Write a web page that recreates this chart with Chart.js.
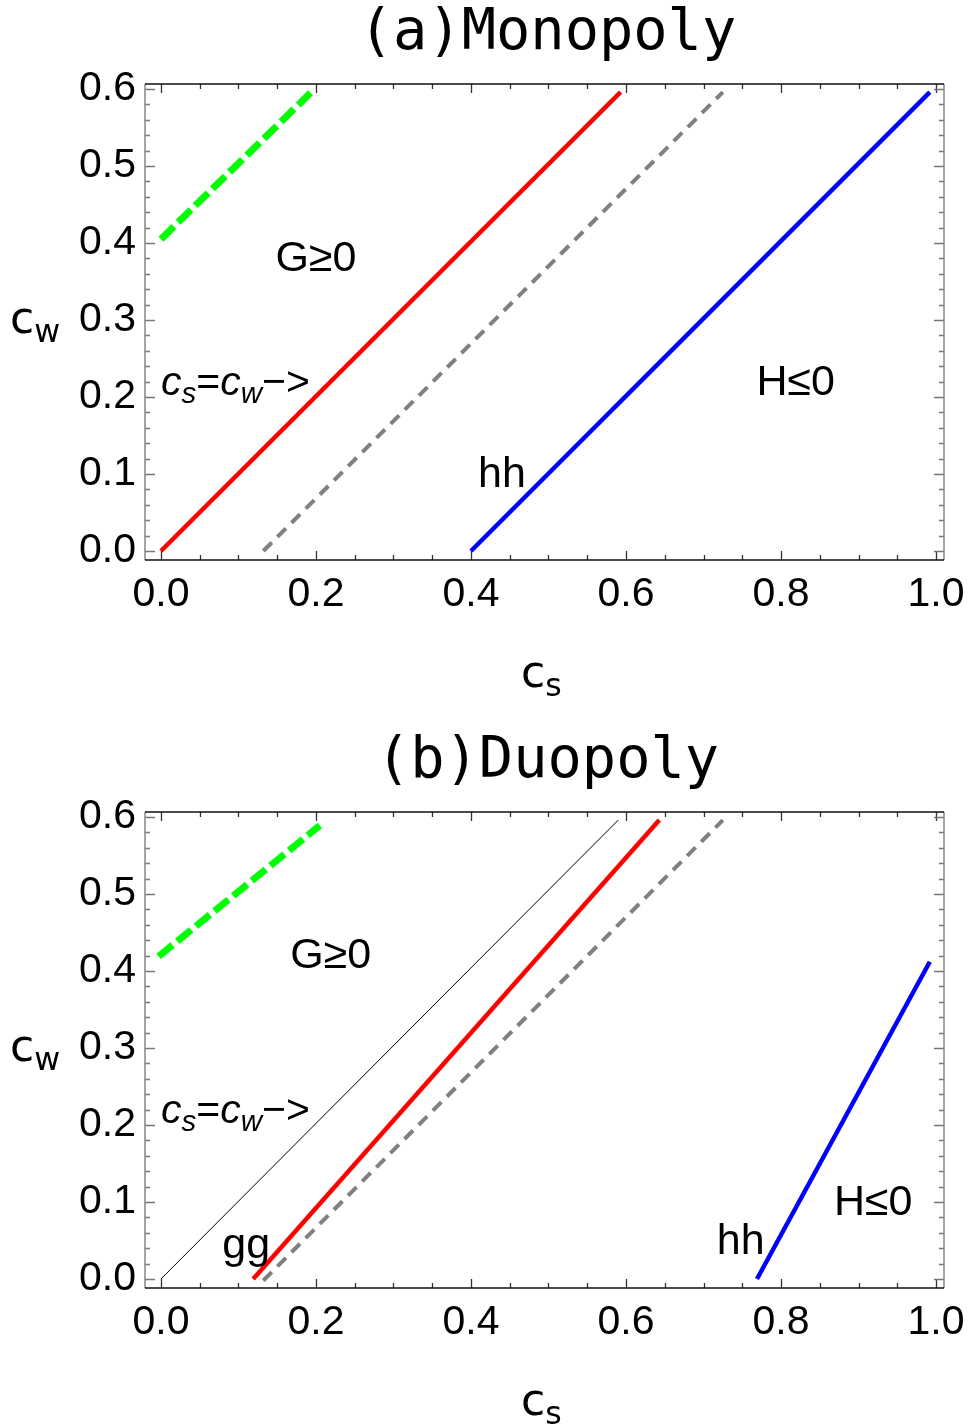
<!DOCTYPE html>
<html>
<head>
<meta charset="utf-8">
<script src="https://cdn.jsdelivr.net/npm/chart.js@4.4.0/dist/chart.umd.min.js"></script>
<style>
    body { margin: 0; background: #fff; }
    canvas { display: block; }
</style>
</head>
<body>
<canvas id="chartA" width="968" height="728"></canvas>
<canvas id="chartB" width="968" height="697"></canvas>
<script>
// Tick labels
const xTicks = [0.0, 0.2, 0.4, 0.6, 0.8, 1.0];
const yTicks = [0.0, 0.1, 0.2, 0.3, 0.4, 0.5, 0.6];

// (a) Monopoly curves
const greenAx = [0.0, 0.193];
const greenAy = [0.405, 0.595];
const redAx = [0.0, 0.593];
const redAy = [0.0, 0.596];
const grayAx = [0.132, 0.725];
const grayAy = [0.0, 0.596];
const blueAx = [0.40, 0.992];
const blueAy = [0.0, 0.596];

// (b) Duopoly curves
const greenBx = [-0.003, 0.205];
const greenBy = [0.419, 0.589];
const blackBx = [0.0, 0.590];
const blackBy = [0.0, 0.596];
const redBx = [0.119, 0.643];
const redBy = [0.0, 0.596];
const grayBx = [0.132, 0.725];
const grayBy = [-0.002, 0.596];
const blueBx = [0.769, 0.992];
const blueBy = [0.0, 0.412];

// zip x/y arrays into points
function pts(xs, ys) {
    return xs.map((x, i) => ({ x: x, y: ys[i] }));
}

function line(xs, ys, color, width, dash) {
    return {
        data: pts(xs, ys),
        borderColor: color,
        borderWidth: width,
        borderDash: dash || [],
        showLine: true,
        pointRadius: 0,
        fill: false
    };
}

// Frame with inward ticks on all four sides
const frameTicks = {
    id: 'frameTicks',
    beforeDatasetsDraw(chart) {
        const { ctx, chartArea: a, scales: { x, y } } = chart;
        ctx.save();
        ctx.lineWidth = 1.3;
        // x ticks, minor every 0.05
        for (let i = 0; i <= 20; i++) {
            const px = Math.round(x.getPixelForValue(i * 0.05)) + 0.5;
            const len = i % 4 === 0 ? 9 : 5;
            ctx.strokeStyle = '#333';
            ctx.beginPath();
            ctx.moveTo(px, a.bottom); ctx.lineTo(px, a.bottom - len);
            ctx.moveTo(px, a.top); ctx.lineTo(px, a.top + len);
            ctx.stroke();
        }
        // y ticks, minor every 0.02
        for (let i = 0; i <= 30; i++) {
            const py = Math.round(y.getPixelForValue(i * 0.02)) + 0.5;
            const len = i % 5 === 0 ? 10 : 5;
            ctx.strokeStyle = '#777';
            ctx.beginPath();
            ctx.moveTo(a.left, py); ctx.lineTo(a.left + len, py);
            ctx.moveTo(a.right, py); ctx.lineTo(a.right - len, py);
            ctx.stroke();
        }
        // frame
        ctx.lineWidth = 1.5;
        ctx.strokeStyle = '#888';
        ctx.beginPath();
        ctx.moveTo(a.left, a.top); ctx.lineTo(a.left, a.bottom);
        ctx.moveTo(a.right, a.top); ctx.lineTo(a.right, a.bottom);
        ctx.stroke();
        ctx.strokeStyle = '#111';
        ctx.beginPath();
        ctx.moveTo(a.left, a.top); ctx.lineTo(a.right, a.top);
        ctx.moveTo(a.left, a.bottom); ctx.lineTo(a.right, a.bottom);
        ctx.stroke();
        ctx.restore();
    }
};

// draw a run of text pieces (italic / subscript) starting at x
function drawParts(ctx, x, baseline, parts, size) {
    parts.forEach(p => {
        const s = p.sub ? size * 0.72 : size;
        ctx.font = (p.italic ? 'italic ' : '') + s + 'px ' + (p.family || '"Liberation Sans"');
        ctx.fillText(p.t, x, baseline + (p.sub ? size * 0.2 : 0));
        x += ctx.measureText(p.t).width;
    });
}

// Titles, axis names and region labels
const annotations = {
    id: 'annotations',
    afterDatasetsDraw(chart) {
        const { ctx, chartArea: a, scales: { x, y } } = chart;
        const o = chart.options.plugins.annotations;
        ctx.save();
        ctx.fillStyle = '#000';

        // title
        ctx.font = '57px "DejaVu Sans Mono"';
        ctx.textAlign = 'center';
        ctx.textBaseline = 'alphabetic';
        ctx.fillText(o.title, (a.left + a.right) / 2 + 3, 49);

        // region labels
        ctx.font = '43px "Liberation Sans"';
        ctx.textBaseline = 'middle';
        o.labels.forEach(l => {
            ctx.fillText(l.text, x.getPixelForValue(l.x), y.getPixelForValue(l.y));
        });

        // c_s=c_w->
        ctx.textAlign = 'left';
        ctx.textBaseline = 'alphabetic';
        drawParts(ctx, x.getPixelForValue(0.0), y.getPixelForValue(0.2026), [
            { t: 'c', italic: true },
            { t: 's', italic: true, sub: true },
            { t: '=' },
            { t: 'c', italic: true },
            { t: 'w', italic: true, sub: true },
            { t: '\u2212>' }
        ], 41);

        // axis names
        const ax = [{ t: 'c', family: '"DejaVu Sans"' }, { t: 's', sub: true, family: '"DejaVu Sans"' }];
        drawParts(ctx, 521, a.bottom + 127, ax, 44);
        const ay = [{ t: 'c', family: '"DejaVu Sans"' }, { t: 'w', sub: true, family: '"DejaVu Sans"' }];
        drawParts(ctx, 10, y.getPixelForValue(0.283), ay, 44);
        ctx.restore();
    }
};

function makeChart(id, title, datasets, labels) {
    const canvas = document.getElementById(id);
    const H = canvas.height;
    return new Chart(canvas, {
        type: 'scatter',
        data: { datasets: datasets },
        options: {
            responsive: false,
            animation: false,
            layout: { padding: { top: 84, right: 24, left: 0, bottom: 0 } },
            plugins: {
                legend: { display: false },
                tooltip: { enabled: false },
                annotations: { title: title, labels: labels }
            },
            scales: {
                x: {
                    type: 'linear',
                    min: -0.0206,
                    max: 1.0103,
                    grid: { display: false, drawTicks: false },
                    border: { display: false },
                    afterBuildTicks: s => { s.ticks = xTicks.map(v => ({ value: v })); },
                    afterFit: s => {
                        s.height = H - 560;
                        s.paddingLeft = 0;
                        s.paddingRight = 0;
                    },
                    ticks: {
                        padding: 10,
                        color: '#000',
                        font: { family: '"Liberation Sans"', size: 41 },
                        maxRotation: 0,
                        callback: v => v.toFixed(1)
                    }
                },
                y: {
                    type: 'linear',
                    min: -0.0117,
                    max: 0.6065,
                    grid: { display: false, drawTicks: false },
                    border: { display: false },
                    afterBuildTicks: s => { s.ticks = yTicks.map(v => ({ value: v })); },
                    afterFit: s => {
                        s.width = 145;
                        s.paddingTop = 0;
                        s.paddingBottom = 0;
                    },
                    ticks: {
                        padding: 9,
                        color: '#000',
                        font: { family: '"Liberation Sans"', size: 41 },
                        callback: v => v.toFixed(1)
                    }
                }
            }
        },
        plugins: [frameTicks, annotations]
    });
}

makeChart('chartA', '(a)Monopoly', [
    line(greenAx, greenAy, '#00ff00', 7, [18, 6]),
    line(redAx, redAy, '#ff0000', 4.5),
    line(grayAx, grayAy, '#808080', 4, [12, 8]),
    line(blueAx, blueAy, '#0000ff', 4.5)
], [
    { text: 'G\u22650', x: 0.2, y: 0.379 },
    { text: 'hh', x: 0.44, y: 0.0987 },
    { text: 'H\u22640', x: 0.819, y: 0.218 }
]);

makeChart('chartB', '(b)Duopoly', [
    line(greenBx, greenBy, '#00ff00', 7, [18, 6]),
    line(blackBx, blackBy, '#000000', 1),
    line(redBx, redBy, '#ff0000', 4.5),
    line(grayBx, grayBy, '#808080', 4, [12, 8]),
    line(blueBx, blueBy, '#0000ff', 4.5)
], [
    { text: 'G\u22650', x: 0.219, y: 0.419 },
    { text: 'gg', x: 0.11, y: 0.043 },
    { text: 'hh', x: 0.748, y: 0.048 },
    { text: 'H\u22640', x: 0.919, y: 0.099 }
]);
</script>
</body>
</html>
